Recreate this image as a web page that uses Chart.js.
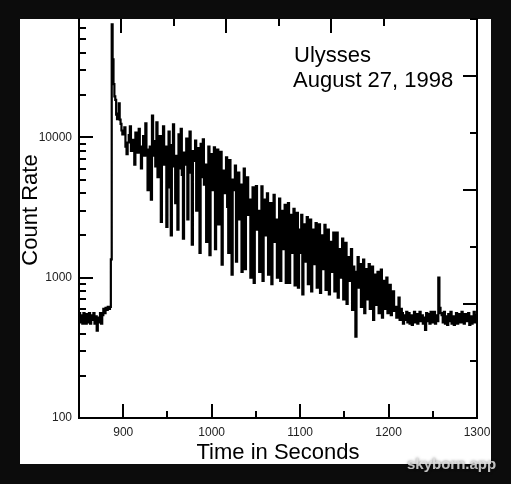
<!DOCTYPE html>
<html>
<head>
<meta charset="utf-8">
<title>Ulysses count rate</title>
<script src="https://cdn.jsdelivr.net/npm/chart.js@4.4.1/dist/chart.umd.min.js"></script>
<style>
  html, body { margin: 0; padding: 0; background: #0c0c0c; }
  #chart { position: absolute; left: 0; top: 0; }
</style>
</head>
<body>
<canvas id="chart" width="511" height="484"></canvas>
<script>
// ---- data (count rate) ----
// background before the burst, 1.25 s bins from 850 s
const preStart = 850, preStep = 1.25;
const preCounts = [560, 480, 540, 470, 560, 500, 470, 550, 480, 560, 470, 540, 500, 560,
                   470, 530, 420, 520, 480, 560, 470, 540, 600, 560, 610, 590, 620, 600];

// burst onset, 1 s bins from 885 s
const onsetStart = 885, onsetStep = 1;
const onsetCounts = [620, 1350, 64000, 36000, 24000, 19600, 18500, 14500, 13500, 14800,
                     17500, 13400, 12500, 11200, 10500];

// spin-modulated decay and background, 1.25 s bins from 900 s
const decayStart = 900, decayStep = 1.25;
const decayCounts = [
  10500, 11800, 8600, 7600,   9200, 10400, 12000, 8000,   8400, 9600, 6400, 10800,
  9000, 7800, 11500, 8200,    6000, 8600, 10200, 7400,    12600, 7600, 4200, 8200,
  8600, 3600, 14300, 7400,    9400, 6200, 12800, 5200,    7000, 10200, 2500, 8200,
  12000, 6400, 8600, 2300,    7800, 11000, 4400, 2000,    8800, 12400, 6200, 3400,
  7400, 2200, 10500, 6000,    11500, 5400, 1900, 7800,    6400, 9800, 2600, 7200,
  11000, 5600, 1720, 8000,    6800, 9500, 3000, 5600,     8400, 1500, 9000, 5200,
  9700, 4600, 6400, 1800,     5200, 8600, 1450, 6000,     7600, 4200, 8500, 1600,
  5400, 8200, 2400, 4600,     7900, 1240, 5800, 4000,     4400, 7200, 3200, 1500,
  6900, 3400, 1050, 5000,     4200, 6300, 1300, 3600,     5600, 2600, 4600, 1100,
  3800, 6000, 1150, 3300,     5200, 2800, 3600, 1000,     3000, 4400, 920, 3400,
  4500, 2200, 3000, 1100,     2600, 4470, 950, 2800,      3600, 2000, 4000, 1050,
  2400, 3400, 900, 2700,      3900, 1800, 2600, 1000,     2200, 3660, 950, 2400,
  3000, 1600, 3300, 920,      2100, 3400, 920, 2000,      2800, 1500, 3100, 880,
  1900, 2900, 850, 2200,      1500, 2800, 760, 1900,      2400, 1300, 2700, 900,
  1700, 2600, 800, 1500,      2200, 1250, 2450, 850,      1400, 2400, 780, 1700,
  2000, 1150, 2380, 820,      1300, 2200, 760, 1600,      1800, 1100, 2100, 800,
  1250, 2100, 720, 1500,      1600, 1000, 1900, 700,      1150, 1770, 650, 1300,
  1400, 950, 1600, 590,       1200, 900, 380, 1100,       1400, 850, 1250, 620,
  900, 1345, 560, 1000,       1150, 700, 1250, 600,       850, 1200, 500, 900,
  1050, 640, 1100, 560,       720, 1140, 520, 800,        950, 600, 1000, 560,
  650, 890, 540, 700,         800, 580, 620, 520,         560, 720, 500, 600,
  560, 470, 540, 500,         570, 480, 560, 470,         540, 460, 530, 570,
  480, 550, 470, 520,         570, 490, 540, 470,         520, 425, 560, 490,
  550, 470, 570, 480,         520, 570, 470, 540,         490, 1000, 610, 560,
  540, 480, 570, 470,         530, 460, 550, 490,         570, 470, 530, 460,
  490, 560, 470, 550,         530, 480, 570, 490,         470, 550, 490, 540,
  560, 460, 530, 470,         510, 570, 480, 540
];

const xTickLabels = [900, 1000, 1100, 1200, 1300];
const yTickLabels = [100, 1000, 10000];

// ---- build step points ----
const points = [];
function addBins(start, step, counts) {
    counts.forEach(function (c, i) { points.push({ x: start + i * step, y: c }); });
}
addBins(preStart, preStep, preCounts);
addBins(onsetStart, onsetStep, onsetCounts);
addBins(decayStart, decayStep, decayCounts);
points.push({ x: 1300, y: decayCounts[decayCounts.length - 1] });

const FONT = '"Liberation Sans", Arial, Helvetica, sans-serif';
Chart.defaults.font.family = FONT;

/* ---- panel background, inward ticks and text ---- */
const framePlugin = {
    id: 'frame',
    beforeDraw: function (chart) {
        const ctx = chart.ctx;
        ctx.save();
        ctx.fillStyle = '#0c0c0c';
        ctx.fillRect(0, 0, chart.width, chart.height);
        ctx.fillStyle = '#ffffff';
        ctx.fillRect(20, 19, 471, 445);
        ctx.restore();
    },
    afterDraw: function (chart) {
        const ctx = chart.ctx, a = chart.chartArea, s = chart.scales;
        ctx.save();
        ctx.strokeStyle = '#000';
        ctx.lineWidth = 2;
        function tick(x1, y1, x2, y2) {
            ctx.beginPath(); ctx.moveTo(x1, y1); ctx.lineTo(x2, y2); ctx.stroke();
        }
        // bottom: every 50 s, long at hundreds
        s.x.ticks.forEach(function (t) {
            if (t.value <= 850) return;
            const px = Math.round(s.x.getPixelForValue(t.value));
            tick(px, a.bottom, px, a.bottom - (t.value % 100 === 0 ? 14 : 7));
        });
        // top: secondary scale
        s.x2.ticks.forEach(function (t) {
            if (!Number.isInteger(t.value)) return;
            const px = Math.round(s.x2.getPixelForValue(t.value));
            tick(px, a.top, px, a.top + (t.value % 2 === 0 ? 14 : 7));
        });
        // left: log decades
        s.y.ticks.forEach(function (t) {
            const sig = t.value / Math.pow(10, Math.floor(Math.log10(t.value) + 1e-9));
            if (Math.abs(sig - Math.round(sig)) > 1e-6 || t.value <= 100) return;
            const py = Math.round(s.y.getPixelForValue(t.value));
            tick(a.left, py, a.left + (yTickLabels.includes(t.value) ? 14 : 7), py);
        });
        // right: secondary scale
        s.y2.ticks.forEach(function (t) {
            if (!Number.isInteger(t.value) || t.value === 0) return;
            const py = Math.round(s.y2.getPixelForValue(t.value));
            tick(a.right, py, a.right - (t.value % 2 === 0 ? 14 : 7), py);
        });

        // y axis title
        ctx.fillStyle = '#000';
        ctx.font = '22px ' + FONT;
        ctx.textAlign = 'center';
        ctx.textBaseline = 'middle';
        ctx.translate(31, 210);
        ctx.rotate(-Math.PI / 2);
        ctx.fillText('Count Rate', 0, 0);
        ctx.setTransform(1, 0, 0, 1, 0, 0);

        // annotation
        ctx.textAlign = 'left';
        ctx.textBaseline = 'alphabetic';
        ctx.fillText('Ulysses', 294, 62);
        ctx.fillText('August 27, 1998', 293, 87);

        // watermark
        ctx.font = 'bold 15px ' + FONT;
        ctx.shadowColor = 'rgba(0,0,0,0.6)';
        ctx.shadowBlur = 3;
        ctx.fillStyle = 'rgba(225,225,225,0.85)';
        ctx.fillText('skyborn.app', 407, 469);
        ctx.restore();
    }
};

new Chart(document.getElementById('chart'), {
    type: 'line',
    data: {
        datasets: [{
            data: points,
            borderColor: '#000',
            borderWidth: 2.2,
            stepped: 'before',
            pointRadius: 0,
            fill: false
        }]
    },
    options: {
        responsive: false,
        animation: false,
        devicePixelRatio: 1,
        layout: { padding: 0 },
        plugins: { legend: { display: false }, tooltip: { enabled: false } },
        scales: {
            x: {
                type: 'linear', position: 'bottom', min: 850, max: 1300,
                afterFit: function (sc) { sc.height = 66; },
                grid: { display: false, drawTicks: false },
                border: { display: true, color: '#000', width: 2 },
                ticks: {
                    stepSize: 50, autoSkip: false, maxRotation: 0, padding: 7,
                    color: '#222', font: { size: 12 },
                    callback: function (v) { return xTickLabels.includes(v) ? String(v) : ''; }
                },
                title: {
                    display: true, text: 'Time in Seconds', color: '#000',
                    font: { size: 22 }, padding: { top: 0, bottom: 18 }
                }
            },
            x2: {
                type: 'linear', position: 'top', min: -0.8, max: 6.78,
                afterFit: function (sc) { sc.height = 19; },
                grid: { display: false, drawTicks: false },
                border: { display: false },
                ticks: { stepSize: 1, display: false }
            },
            y: {
                type: 'logarithmic', position: 'left', min: 100, max: 69800,
                afterFit: function (sc) { sc.width = 79; },
                grid: { display: false, drawTicks: false },
                border: { display: true, color: '#000', width: 2 },
                ticks: {
                    autoSkip: false, padding: 7, color: '#222', font: { size: 12 },
                    callback: function (v) { return yTickLabels.includes(v) ? String(v) : ''; }
                }
            },
            y2: {
                type: 'linear', position: 'right', min: 0, max: 7,
                afterFit: function (sc) { sc.width = 34; },
                grid: { display: false, drawTicks: false },
                border: { display: true, color: '#000', width: 2 },
                ticks: { stepSize: 1, display: false }
            }
        }
    },
    plugins: [framePlugin]
});
</script>
</body>
</html>
